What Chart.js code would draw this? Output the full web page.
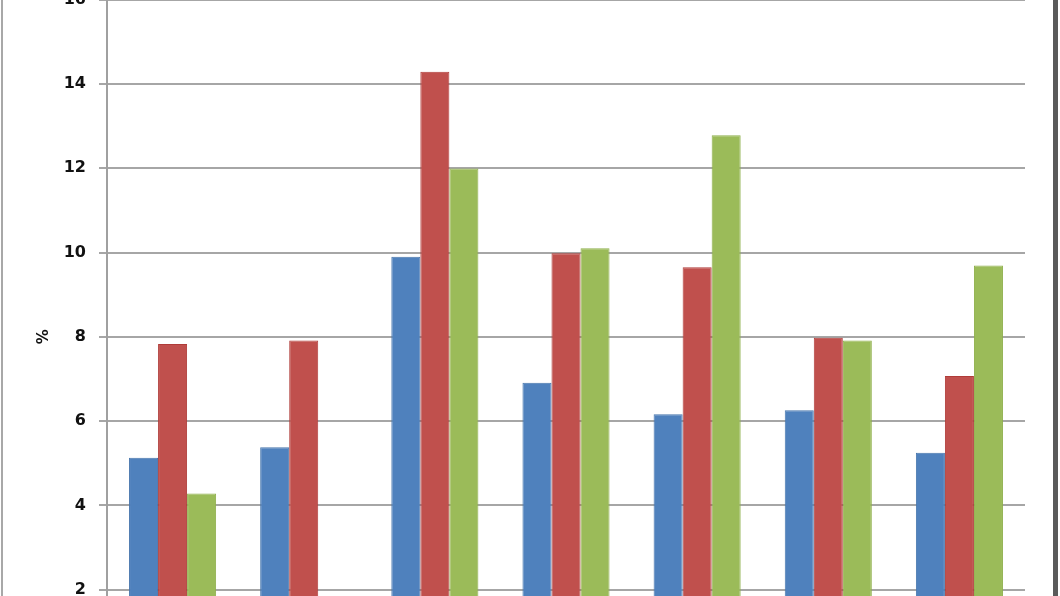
<!DOCTYPE html>
<html lang="en">
<head>
    <meta charset="UTF-8">
    <title>Bar Chart</title>
    <script src="https://cdn.jsdelivr.net/npm/chart.js"></script>
    <style>
        html, body {
            margin: 0;
            padding: 0;
            width: 1060px;
            height: 596px;
            overflow: hidden;
            background: #ffffff;
        }

        #frame {
            position: absolute;
            left: 1px;
            top: 0;
            width: 1050px;
            height: 596px;
            border-left: 2px solid #a8a8a8;
            border-right: 5px solid #5a5a5a;
        }

        #wrap {
            position: absolute;
            left: 0;
            top: -23px;
            width: 1060px;
            height: 724px;
        }
    </style>
</head>
<body>
    <div id="frame"></div>
    <div id="wrap">
        <canvas id="barChart"></canvas>
    </div>

    <script>
        // Data
        var categories = ['1', '2', '3', '4', '5', '6', '7'];
        var seriesBlue = [5.13, 5.38, 9.90, 6.91, 6.16, 6.26, 5.25];
        var seriesRed = [7.83, 7.91, 14.29, 9.98, 9.65, 7.98, 7.07];
        var seriesGreen = [4.28, null, 11.99, 10.10, 12.78, 7.91, 9.69];
        var yTicks = [0, 2, 4, 6, 8, 10, 12, 14, 16];

        var data = {
            labels: categories,
            datasets: [
                {
                    label: 'Series 1',
                    data: seriesBlue,
                    backgroundColor: '#4f81bd',
                    borderColor: '#4776ad',
                    borderWidth: 1
                },
                {
                    label: 'Series 2',
                    data: seriesRed,
                    backgroundColor: '#c0504d',
                    borderColor: '#b03c39',
                    borderWidth: 1
                },
                {
                    label: 'Series 3',
                    data: seriesGreen,
                    backgroundColor: '#9bbb59',
                    borderColor: '#8fb04c',
                    borderWidth: 1
                }
            ]
        };

        var config = {
            type: 'bar',
            data: data,
            options: {
                responsive: true,
                maintainAspectRatio: false,
                animation: false,
                layout: {
                    padding: { left: 35, right: 35, top: 18.5, bottom: 27 }
                },
                datasets: {
                    bar: {
                        categoryPercentage: 0.664,
                        barPercentage: 1.0
                    }
                },
                plugins: {
                    legend: { display: false },
                    tooltip: { enabled: false }
                },
                scales: {
                    x: {
                        display: false
                    },
                    y: {
                        min: yTicks[0],
                        max: yTicks[yTicks.length - 1],
                        afterBuildTicks: function(axis) {
                            axis.ticks = yTicks.map(function(v) { return { value: v }; });
                        },
                        afterFit: function(axis) {
                            axis.width = 72;
                        },
                        border: {
                            display: true,
                            color: '#a0a0a0',
                            width: 2
                        },
                        grid: {
                            color: '#a6a6a6',
                            lineWidth: 2,
                            tickLength: 8,
                            drawTicks: true
                        },
                        ticks: {
                            padding: 13,
                            color: '#111111',
                            font: {
                                family: 'DejaVu Sans',
                                size: 16,
                                weight: 'bold'
                            }
                        },
                        title: {
                            display: true,
                            text: '%',
                            color: '#111111',
                            padding: 0,
                            font: {
                                family: 'DejaVu Sans',
                                size: 15,
                                weight: 'bold'
                            }
                        }
                    }
                }
            }
        };

        var ctx = document.getElementById('barChart').getContext('2d');
        window.myChart = new Chart(ctx, config);
    </script>
</body>
</html>
